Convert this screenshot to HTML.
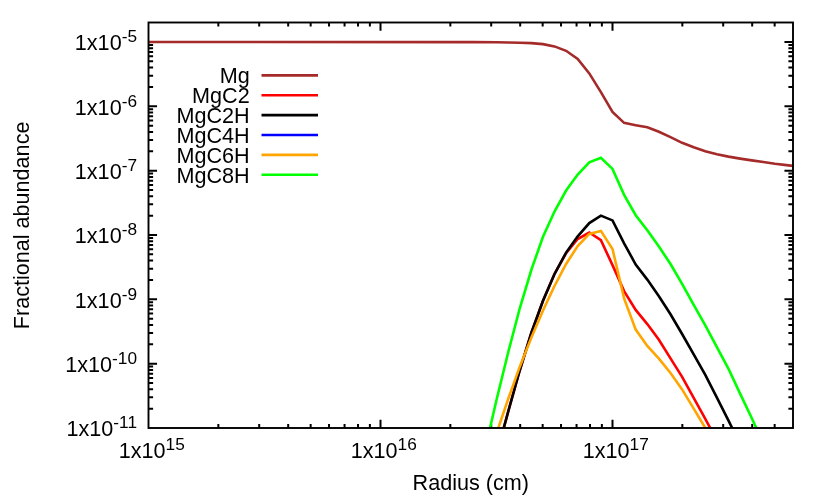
<!DOCTYPE html>
<html><head><meta charset="utf-8"><title>plot</title>
<style>html,body{margin:0;padding:0;background:#fff}svg{display:block;will-change:transform}text{font-family:"Liberation Sans",sans-serif;fill:#000}</style></head><body>
<svg width="830" height="498" viewBox="0 0 830 498">
<rect width="830" height="498" fill="#fff"/>
<defs><clipPath id="c"><rect x="148.50" y="22.50" width="644.50" height="405.50"/></clipPath></defs>
<path d="M218.34,428.00 v-4.00 M218.34,22.50 v4.00 M259.19,428.00 v-4.00 M259.19,22.50 v4.00 M288.18,428.00 v-4.00 M288.18,22.50 v4.00 M310.66,428.00 v-4.00 M310.66,22.50 v4.00 M329.03,428.00 v-4.00 M329.03,22.50 v4.00 M344.56,428.00 v-4.00 M344.56,22.50 v4.00 M358.02,428.00 v-4.00 M358.02,22.50 v4.00 M369.88,428.00 v-4.00 M369.88,22.50 v4.00 M380.50,428.00 v-8.20 M380.50,22.50 v8.20 M450.34,428.00 v-4.00 M450.34,22.50 v4.00 M491.19,428.00 v-4.00 M491.19,22.50 v4.00 M520.18,428.00 v-4.00 M520.18,22.50 v4.00 M542.66,428.00 v-4.00 M542.66,22.50 v4.00 M561.03,428.00 v-4.00 M561.03,22.50 v4.00 M576.56,428.00 v-4.00 M576.56,22.50 v4.00 M590.02,428.00 v-4.00 M590.02,22.50 v4.00 M601.88,428.00 v-4.00 M601.88,22.50 v4.00 M612.50,428.00 v-8.20 M612.50,22.50 v8.20 M682.34,428.00 v-4.00 M682.34,22.50 v4.00 M723.19,428.00 v-4.00 M723.19,22.50 v4.00 M752.18,428.00 v-4.00 M752.18,22.50 v4.00 M774.66,428.00 v-4.00 M774.66,22.50 v4.00 M148.50,408.63 h4.60 M793.00,408.63 h-4.60 M148.50,397.31 h4.60 M793.00,397.31 h-4.60 M148.50,389.27 h4.60 M793.00,389.27 h-4.60 M148.50,383.03 h4.60 M793.00,383.03 h-4.60 M148.50,377.94 h4.60 M793.00,377.94 h-4.60 M148.50,373.63 h4.60 M793.00,373.63 h-4.60 M148.50,369.90 h4.60 M793.00,369.90 h-4.60 M148.50,366.61 h4.60 M793.00,366.61 h-4.60 M148.50,363.67 h8.55 M793.00,363.67 h-8.55 M148.50,344.30 h4.60 M793.00,344.30 h-4.60 M148.50,332.97 h4.60 M793.00,332.97 h-4.60 M148.50,324.93 h4.60 M793.00,324.93 h-4.60 M148.50,318.70 h4.60 M793.00,318.70 h-4.60 M148.50,313.61 h4.60 M793.00,313.61 h-4.60 M148.50,309.30 h4.60 M793.00,309.30 h-4.60 M148.50,305.57 h4.60 M793.00,305.57 h-4.60 M148.50,302.28 h4.60 M793.00,302.28 h-4.60 M148.50,299.33 h8.55 M793.00,299.33 h-8.55 M148.50,279.97 h4.60 M793.00,279.97 h-4.60 M148.50,268.64 h4.60 M793.00,268.64 h-4.60 M148.50,260.60 h4.60 M793.00,260.60 h-4.60 M148.50,254.37 h4.60 M793.00,254.37 h-4.60 M148.50,249.27 h4.60 M793.00,249.27 h-4.60 M148.50,244.97 h4.60 M793.00,244.97 h-4.60 M148.50,241.23 h4.60 M793.00,241.23 h-4.60 M148.50,237.94 h4.60 M793.00,237.94 h-4.60 M148.50,235.00 h8.55 M793.00,235.00 h-8.55 M148.50,215.63 h4.60 M793.00,215.63 h-4.60 M148.50,204.31 h4.60 M793.00,204.31 h-4.60 M148.50,196.27 h4.60 M793.00,196.27 h-4.60 M148.50,190.03 h4.60 M793.00,190.03 h-4.60 M148.50,184.94 h4.60 M793.00,184.94 h-4.60 M148.50,180.63 h4.60 M793.00,180.63 h-4.60 M148.50,176.90 h4.60 M793.00,176.90 h-4.60 M148.50,173.61 h4.60 M793.00,173.61 h-4.60 M148.50,170.67 h8.55 M793.00,170.67 h-8.55 M148.50,151.30 h4.60 M793.00,151.30 h-4.60 M148.50,139.97 h4.60 M793.00,139.97 h-4.60 M148.50,131.93 h4.60 M793.00,131.93 h-4.60 M148.50,125.70 h4.60 M793.00,125.70 h-4.60 M148.50,120.61 h4.60 M793.00,120.61 h-4.60 M148.50,116.30 h4.60 M793.00,116.30 h-4.60 M148.50,112.57 h4.60 M793.00,112.57 h-4.60 M148.50,109.28 h4.60 M793.00,109.28 h-4.60 M148.50,106.33 h8.55 M793.00,106.33 h-8.55 M148.50,86.97 h4.60 M793.00,86.97 h-4.60 M148.50,75.64 h4.60 M793.00,75.64 h-4.60 M148.50,67.60 h4.60 M793.00,67.60 h-4.60 M148.50,61.37 h4.60 M793.00,61.37 h-4.60 M148.50,56.27 h4.60 M793.00,56.27 h-4.60 M148.50,51.97 h4.60 M793.00,51.97 h-4.60 M148.50,48.23 h4.60 M793.00,48.23 h-4.60 M148.50,44.94 h4.60 M793.00,44.94 h-4.60 M148.50,42.00 h8.55 M793.00,42.00 h-8.55" stroke="#000" stroke-width="2.00" fill="none"/>
<g clip-path="url(#c)" fill="none" stroke-width="2.60" stroke-linejoin="miter" stroke-linecap="butt">
<path d="M148.50,42.00 L473.30,42.10 L496.50,42.30 L508.10,42.50 L519.70,42.70 L531.30,43.10 L542.90,44.10 L554.50,46.40 L566.10,50.80 L577.70,58.90 L589.30,73.40 L600.90,92.10 L612.50,112.00 L624.10,122.90 L635.70,125.20 L647.30,127.30 L658.90,131.70 L670.50,137.10 L682.10,142.80 L693.70,147.20 L705.30,151.20 L716.90,154.30 L728.50,156.60 L740.10,158.60 L751.70,160.40 L763.30,162.00 L774.90,163.70 L786.50,165.10 L798.10,166.40" stroke="#a52a2a"/>
<path d="M496.50,454.60 L508.10,412.00 L519.70,370.50 L531.30,333.00 L542.90,301.00 L554.50,274.00 L566.10,253.20 L577.70,239.00 L589.30,232.50 L600.90,240.20 L612.50,265.10 L624.10,291.10 L635.70,309.90 L647.30,324.10 L658.90,339.80 L670.50,358.40 L682.10,376.80 L693.70,397.80 L705.30,418.90 L716.90,440.50" stroke="#ff0000"/>
<path d="M496.50,454.60 L508.10,412.00 L519.70,370.50 L531.30,333.00 L542.90,301.00 L554.50,274.00 L566.10,252.60 L577.70,236.30 L589.30,223.10 L600.90,215.60 L612.50,220.40 L624.10,243.30 L635.70,264.50 L647.30,279.60 L658.90,296.20 L670.50,314.30 L682.10,334.00 L693.70,354.40 L705.30,374.80 L716.90,397.60 L728.50,420.70 L740.10,444.00" stroke="#000000"/>
<path d="M484.90,468.00 L496.50,433.30 L508.10,399.20 L519.70,366.90 L531.30,337.80 L542.90,310.80 L554.50,286.00 L566.10,264.00 L577.70,246.00 L589.30,233.90 L600.90,230.90 L612.50,249.00 L624.10,298.40 L635.70,329.60 L647.30,346.00 L658.90,358.60 L670.50,373.00 L682.10,389.40 L693.70,408.60 L705.30,428.00 L716.90,448.00" stroke="#ffa500"/>
<path d="M484.90,450.00 L496.50,400.00 L508.10,352.70 L519.70,308.50 L531.30,270.00 L542.90,237.00 L554.50,211.50 L566.10,190.50 L577.70,174.60 L589.30,162.30 L600.90,157.70 L612.50,168.90 L624.10,194.90 L635.70,215.20 L647.30,230.30 L658.90,246.50 L670.50,264.00 L682.10,283.90 L693.70,304.90 L705.30,325.40 L716.90,347.10 L728.50,368.80 L740.10,393.60 L751.70,418.00 L763.30,443.50" stroke="#00ff00"/>
</g>
<rect x="148.50" y="22.50" width="644.50" height="405.50" fill="none" stroke="#000" stroke-width="1.90"/>
<text x="249.7" y="83.20" font-size="21.60" text-anchor="end">Mg</text>
<path d="M261.5,75.40 H318" stroke="#a52a2a" stroke-width="2.60" fill="none"/>
<text x="249.7" y="103.07" font-size="21.60" text-anchor="end">MgC2</text>
<path d="M261.5,95.27 H318" stroke="#ff0000" stroke-width="2.60" fill="none"/>
<text x="249.7" y="122.94" font-size="21.60" text-anchor="end">MgC2H</text>
<path d="M261.5,115.14 H318" stroke="#000000" stroke-width="2.60" fill="none"/>
<text x="249.7" y="142.81" font-size="21.60" text-anchor="end">MgC4H</text>
<path d="M261.5,135.01 H318" stroke="#0000ff" stroke-width="2.60" fill="none"/>
<text x="249.7" y="162.68" font-size="21.60" text-anchor="end">MgC6H</text>
<path d="M261.5,154.88 H318" stroke="#ffa500" stroke-width="2.60" fill="none"/>
<text x="249.7" y="182.55" font-size="21.60" text-anchor="end">MgC8H</text>
<path d="M261.5,174.75 H318" stroke="#00ff00" stroke-width="2.60" fill="none"/>
<text x="137.0" y="436.20" font-size="21.60" text-anchor="end">1x10<tspan font-size="17.28" dy="-8">-11</tspan></text>
<text x="137.0" y="371.87" font-size="21.60" text-anchor="end">1x10<tspan font-size="17.28" dy="-8">-10</tspan></text>
<text x="137.0" y="307.53" font-size="21.60" text-anchor="end">1x10<tspan font-size="17.28" dy="-8">-9</tspan></text>
<text x="137.0" y="243.20" font-size="21.60" text-anchor="end">1x10<tspan font-size="17.28" dy="-8">-8</tspan></text>
<text x="137.0" y="178.87" font-size="21.60" text-anchor="end">1x10<tspan font-size="17.28" dy="-8">-7</tspan></text>
<text x="137.0" y="114.53" font-size="21.60" text-anchor="end">1x10<tspan font-size="17.28" dy="-8">-6</tspan></text>
<text x="137.0" y="50.20" font-size="21.60" text-anchor="end">1x10<tspan font-size="17.28" dy="-8">-5</tspan></text>
<text x="151.80" y="457.5" font-size="21.60" text-anchor="middle">1x10<tspan font-size="17.28" dy="-8">15</tspan></text>
<text x="383.80" y="457.5" font-size="21.60" text-anchor="middle">1x10<tspan font-size="17.28" dy="-8">16</tspan></text>
<text x="615.80" y="457.5" font-size="21.60" text-anchor="middle">1x10<tspan font-size="17.28" dy="-8">17</tspan></text>
<text x="470.75" y="489.6" font-size="21.60" text-anchor="middle">Radius (cm)</text>
<text transform="translate(28.7,225.4) rotate(-90)" font-size="21.60" text-anchor="middle">Fractional abundance</text>
</svg></body></html>
